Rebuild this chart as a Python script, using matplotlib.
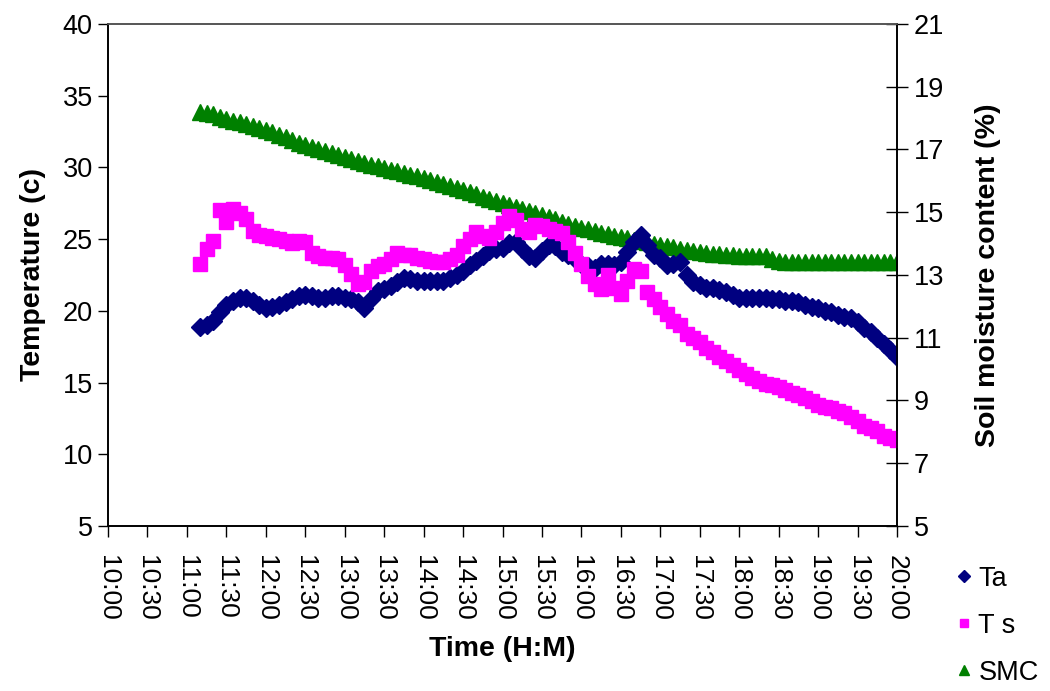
#!/usr/bin/env python3
import matplotlib

matplotlib.use("Agg")
import matplotlib.pyplot as plt
import numpy as np

plt.rcParams["font.family"] = ["Liberation Sans", "DejaVu Sans"]

# sample times, minutes after 10:00 (11:10 .. 20:00, every 5 min)
minutes = np.arange(70, 605, 5)

# air temperature (c)
ta = [
    18.9, 19.0, 19.3, 19.9,
    20.4, 20.7, 20.9, 20.9, 20.7, 20.4,
    20.2, 20.3, 20.4, 20.6, 20.8, 21.0,
    21.1, 21.0, 20.9, 20.9, 21.0, 21.0,
    20.9, 20.8, 20.6, 20.2, 20.8, 21.4,
    21.5, 21.7, 22.0, 22.3, 22.2, 22.1,
    22.1, 22.1, 22.1, 22.1, 22.3, 22.5,
    22.8, 23.2, 23.5, 23.8, 24.2, 24.3,
    24.4, 24.7, 24.8, 24.3, 23.8, 23.7,
    24.2, 24.6, 24.5, 24.1, 23.9, 23.6,
    23.3, 23.1, 23.0, 23.3, 23.3, 23.2,
    23.4, 24.1, 24.8, 25.3, 24.6, 23.9,
    23.7, 23.2, 23.3, 23.4, 22.5, 22.0,
    21.8, 21.6, 21.6, 21.45, 21.3, 21.1,
    20.9, 20.9, 20.9, 20.9, 20.9, 20.8,
    20.8, 20.7, 20.7, 20.6, 20.4, 20.3,
    20.2, 20.0, 19.9, 19.7, 19.6, 19.5,
    19.2, 18.8, 18.5, 18.1, 17.7, 17.3,
    16.8,
]

# soil temperature (c)
ts = [
    23.3, 24.3, 24.9, 27.0,
    26.2, 27.1, 26.8, 26.4, 25.6, 25.3,
    25.2, 25.1, 25.0, 24.9, 24.7, 24.9,
    24.8, 24.0, 23.8, 23.7, 23.7, 23.6,
    23.2, 22.6, 21.9, 22.0, 22.8, 23.1,
    23.3, 23.6, 24.0, 23.9, 23.9, 23.7,
    23.6, 23.5, 23.4, 23.4, 23.6, 23.9,
    24.5, 25.0, 25.5, 25.2, 25.1, 25.5,
    26.1, 26.6, 26.3, 25.7, 25.5, 26.0,
    25.9, 25.7, 25.6, 25.4, 24.8, 24.0,
    23.3, 22.4, 21.9, 21.5, 22.5, 21.6,
    21.2, 22.1, 22.9, 22.8, 21.3, 20.8,
    20.3, 19.8, 19.3, 19.0, 18.4, 18.1,
    17.8, 17.4, 17.1, 16.8, 16.5, 16.2,
    15.9, 15.6, 15.3, 15.1, 14.9, 14.8,
    14.7, 14.5, 14.3, 14.1, 13.9, 13.7,
    13.45, 13.3, 13.2, 13.0, 12.9, 12.6,
    12.3, 12.0, 11.8, 11.6, 11.3, 11.1,
    11.0,
]

# soil moisture content (%)
smc = [
    18.20, 18.15, 18.12, 18.02,
    17.97, 17.92, 17.86, 17.80, 17.75, 17.68,
    17.62, 17.55, 17.45, 17.40, 17.30, 17.22,
    17.14, 17.08, 17.00, 16.95, 16.88, 16.82,
    16.76, 16.70, 16.64, 16.58, 16.52, 16.47,
    16.41, 16.36, 16.30, 16.25, 16.20, 16.14,
    16.09, 16.03, 15.97, 15.90, 15.84, 15.77,
    15.71, 15.64, 15.57, 15.50, 15.43, 15.36,
    15.29, 15.23, 15.16, 15.10, 15.04, 14.97,
    14.91, 14.84, 14.77, 14.70, 14.63, 14.56,
    14.50, 14.45, 14.40, 14.35, 14.30, 14.25,
    14.21, 14.17, 14.12, 14.08, 14.04, 14.00,
    13.96, 13.92, 13.88, 13.84, 13.80, 13.77,
    13.73, 13.70, 13.68, 13.66, 13.64, 13.63,
    13.62, 13.62, 13.61, 13.61, 13.60, 13.50,
    13.45, 13.42, 13.42, 13.41, 13.41, 13.41,
    13.41, 13.41, 13.41, 13.41, 13.41, 13.41,
    13.41, 13.41, 13.41, 13.41, 13.41, 13.41,
    13.41,
]

tick_minutes = list(range(0, 601, 30))
tick_labels = [f"{10 + m // 60}:{m % 60:02d}" for m in tick_minutes]


def main():
    fig = plt.figure(figsize=(10.5, 6.91), dpi=100)
    ax = fig.add_axes([0.1029, 0.2388, 0.7514, 0.7265])
    ax2 = ax.twinx()

    # temperatures drawn over the moisture series
    ax.set_zorder(ax2.get_zorder() + 1)
    ax.patch.set_visible(False)

    h3, = ax2.plot(minutes, smc, linestyle="none", marker="^", ms=11,
                   color="#008000", mec="#008000", label="SMC")
    h1, = ax.plot(minutes, ta, linestyle="none", marker="D", ms=9.5,
                  color="#000080", mec="#000080", label="Ta")
    h2, = ax.plot(minutes, ts, linestyle="none", marker="s", ms=9.5,
                  color="#FF00FF", mec="#FF00FF", label="T s")

    ax.set_xlim(0, 600)
    ax.set_ylim(5, 40)
    ax.set_yticks(range(5, 41, 5))
    ax2.set_ylim(5, 21)
    ax2.set_yticks(range(5, 22, 2))

    ax.set_xticks(tick_minutes)
    ax.set_xticklabels(tick_labels, rotation=-90, fontsize=19)
    ax.tick_params(axis="x", direction="out", length=8, width=1, pad=13)
    ax.tick_params(axis="y", direction="out", length=7, width=1, labelsize=19.5, pad=4)
    ax2.tick_params(axis="y", direction="inout", length=16, width=1, labelsize=19.5, pad=4)

    for a in (ax, ax2):
        for side in ("left", "right", "bottom"):
            a.spines[side].set_color("black")
            a.spines[side].set_linewidth(1.2)
        a.spines["top"].set_color("#555555")
        a.spines["top"].set_linewidth(1.2)

    ax.set_xlabel("Time (H:M)", fontsize=20.5, fontweight="bold", labelpad=11)
    ax.set_ylabel("Temperature (c)", fontsize=20.5, fontweight="bold", labelpad=12)
    ax2.set_ylabel("Soil moisture content (%)", fontsize=20.5, fontweight="bold",
                   rotation=90, labelpad=22)

    fig.legend(
        handles=[h1, h2, h3],
        loc="lower left",
        bbox_to_anchor=(0.888, -0.028),
        fontsize=19.5,
        frameon=False,
        handlelength=0.5,
        handletextpad=0.3,
        labelspacing=0.78,
        markerscale=0.6,
    )

    fig.savefig("out.png", dpi=100)
    plt.close(fig)


if __name__ == "__main__":
    main()
